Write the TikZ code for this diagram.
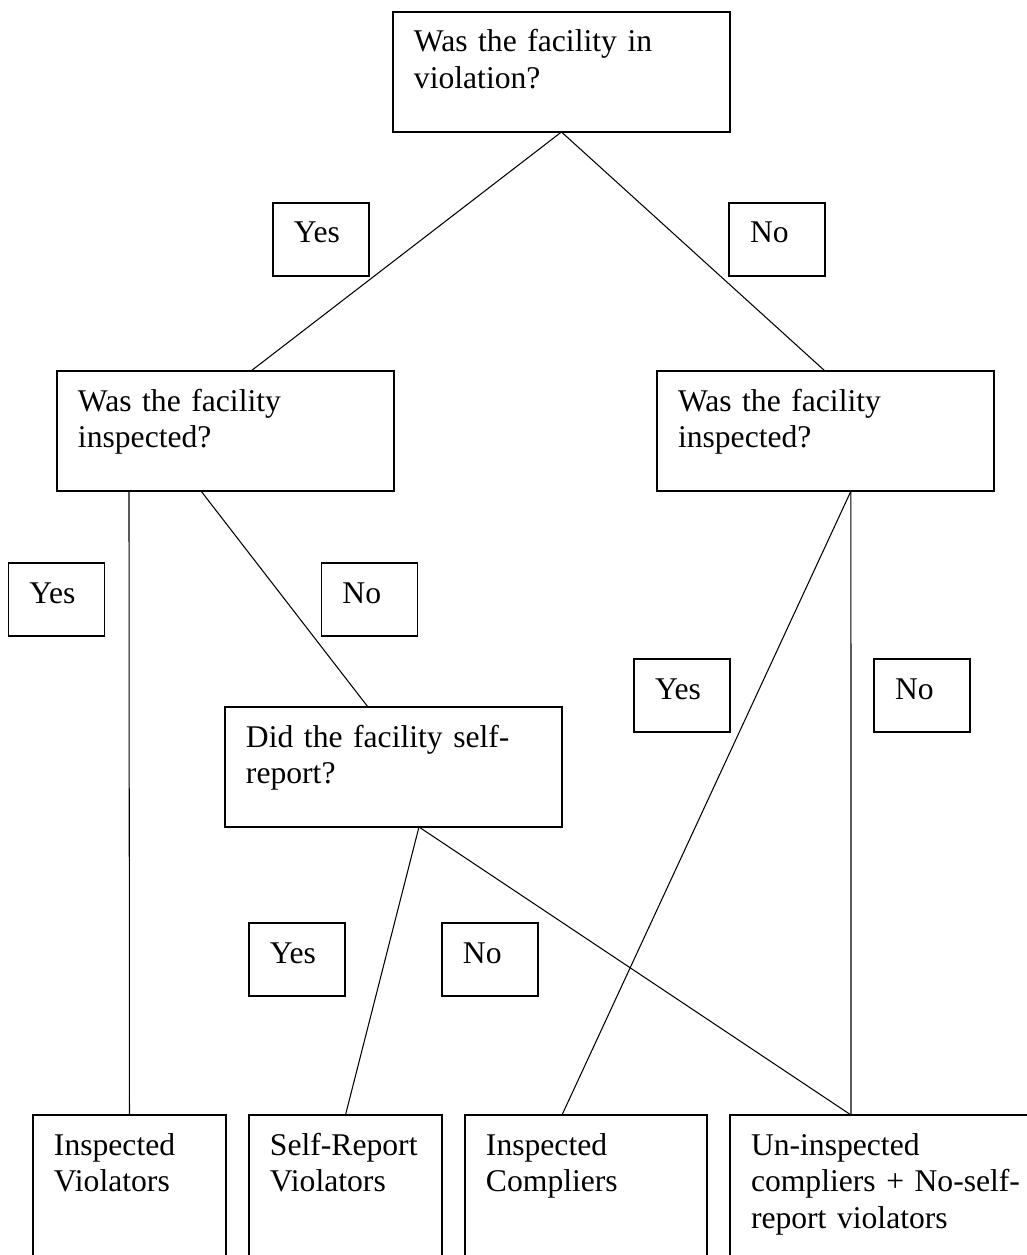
\documentclass[tikz,border=0pt]{standalone}
\usepackage{fontspec}
\setmainfont{Liberation Serif}
\usetikzlibrary{calc}
\begin{document}
\begin{tikzpicture}[x=0.02cm,y=-0.02cm,
  box/.style={draw, line width=1.1pt, rectangle, anchor=north west, inner sep=0pt, outer sep=0pt},
  big/.style={box, minimum width=6.74cm, minimum height=2.4cm},
  tag/.style={box, minimum width=1.92cm, minimum height=1.46cm},
  leaf/.style={box, minimum height=3.2cm},
  txt/.style={anchor=base west, inner sep=0pt, outer sep=0pt, text width=6cm, align=left, font=\fontsize{18}{20.8}\selectfont},
  conn/.style={line width=0.6pt}]
\useasboundingbox (0,0) rectangle (1027,1255);
\clip (0,0) rectangle (1027,1255);

% question boxes
\node[big] (T) at (393,12) {};
\node[big] (L) at (57,371) {};
\node[big] (R) at (657,371) {};
\node[big] (S) at (225,707) {};

% leaf boxes
\node[leaf, minimum width=3.86cm] (B1) at (33,1115) {};
\node[leaf, minimum width=3.86cm] (B2) at (249,1115) {};
\node[leaf, minimum width=4.84cm] (B3) at (465,1115) {};
\node[leaf, minimum width=6.74cm] (B4) at (730,1115) {};

% answer tags
\node[tag] (Y1) at (273,203) {};
\node[tag] (N1) at (729,203) {};
\node[tag] (Y2) at (8.5,563) {};
\node[tag] (N2) at (321.5,563) {};
\node[tag] (Y3) at (634,659) {};
\node[tag] (N3) at (874,659) {};
\node[tag] (Y4) at (249,923) {};
\node[tag] (N4) at (442,923) {};

% texts
\node[txt] (tT) at ([xshift=0.42cm,yshift=-0.8cm]T.north west) {Was the facility in\\violation?};
\node[txt] (tL) at ([xshift=0.42cm,yshift=-0.8cm]L.north west) {Was the facility\\inspected?};
\node[txt] (tR) at ([xshift=0.42cm,yshift=-0.8cm]R.north west) {Was the facility\\inspected?};
\node[txt] (tS) at ([xshift=0.42cm,yshift=-0.8cm]S.north west) {Did the facility self-\\report?};
\node[txt] (tB1) at ([xshift=0.42cm,yshift=-0.8cm]B1.north west) {Inspected\\Violators};
\node[txt] (tB2) at ([xshift=0.42cm,yshift=-0.8cm]B2.north west) {Self-Report\\Violators};
\node[txt] (tB3) at ([xshift=0.42cm,yshift=-0.8cm]B3.north west) {Inspected\\Compliers};
\node[txt] (tB4) at ([xshift=0.42cm,yshift=-0.8cm]B4.north west) {Un-inspected\\compliers + No-self-\\report violators};
\node[txt] (tY1) at ([xshift=0.42cm,yshift=-0.8cm]Y1.north west) {Yes};
\node[txt] (tN1) at ([xshift=0.42cm,yshift=-0.8cm]N1.north west) {No};
\node[txt] (tY2) at ([xshift=0.42cm,yshift=-0.8cm]Y2.north west) {Yes};
\node[txt] (tN2) at ([xshift=0.42cm,yshift=-0.8cm]N2.north west) {No};
\node[txt] (tY3) at ([xshift=0.42cm,yshift=-0.8cm]Y3.north west) {Yes};
\node[txt] (tN3) at ([xshift=0.42cm,yshift=-0.8cm]N3.north west) {No};
\node[txt] (tY4) at ([xshift=0.42cm,yshift=-0.8cm]Y4.north west) {Yes};
\node[txt] (tN4) at ([xshift=0.42cm,yshift=-0.8cm]N4.north west) {No};

% connectors
\draw[conn] (T.south) -- ([xshift=3.88cm]L.north west);
\draw[conn] (T.south) -- ([xshift=3.36cm]R.north west);
\draw[conn] ([xshift=1.44cm]L.south west) -- (B1.north);
\draw[conn] ([xshift=2.88cm]L.south west) -- ([xshift=2.86cm]S.north west);
\draw[conn] ([xshift=3.88cm]R.south west) -- ([xshift=1.94cm]B3.north west);
\draw[conn] ([xshift=3.88cm]R.south west) -- ([xshift=2.42cm]B4.north west);
\draw[conn] ([xshift=3.88cm]S.south west) -- (B2.north);
\draw[conn] ([xshift=3.88cm]S.south west) -- ([xshift=2.42cm]B4.north west);
\end{tikzpicture}
\end{document}
